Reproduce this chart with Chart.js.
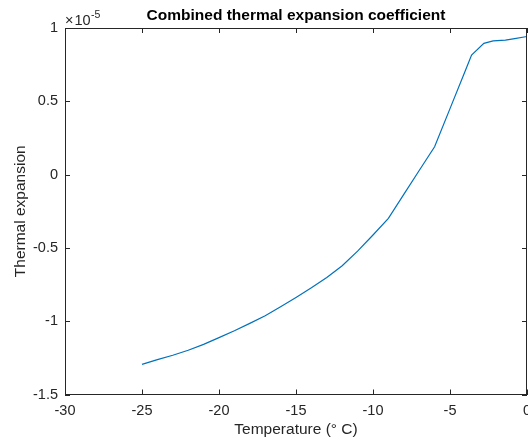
<!DOCTYPE html>
<html>
<head>
<meta charset="utf-8">
<script src="https://cdn.jsdelivr.net/npm/chart.js@4/dist/chart.umd.min.js"></script>
<style>
  html, body { margin: 0; padding: 0; background: #fff; }
  canvas { display: block; }
</style>
</head>
<body>
<canvas id="thermalChart" width="528" height="442"></canvas>
<script>
// temperature (deg C) and thermal expansion (x 10^-5)
var temperature = [-25, -24, -23, -22, -21, -20, -19, -18, -17, -16, -15, -14, -13, -12, -11, -10, -9, -8, -7, -6, -5, -4, -3.6, -2.8, -2.2, -1.4, -0.8, 0];
var expansion = [-1.295, -1.262, -1.232, -1.198, -1.158, -1.112, -1.065, -1.015, -0.963, -0.902, -0.838, -0.772, -0.702, -0.622, -0.522, -0.412, -0.298, -0.135, 0.028, 0.19, 0.45, 0.71, 0.815, 0.895, 0.912, 0.917, 0.928, 0.942];
var yExponent = -5;
var xTicks = [-30, -25, -20, -15, -10, -5, 0];
var yTicks = [-1.5, -1, -0.5, 0, 0.5, 1];

var axisColor = '#262626';
var fontFamily = 'Arial, "Liberation Sans", Helvetica, sans-serif';

var points = temperature.map(function (t, i) { return { x: t, y: expansion[i] }; });

// matlab style box: inward ticks on all 4 sides + the x10^n label
var matlabBox = {
    id: 'matlabBox',
    afterDraw: function (chart) {
        var ctx = chart.ctx;
        var a = chart.chartArea;
        var xs = chart.scales.x, ys = chart.scales.y;
        var len = 5;
        ctx.save();
        ctx.strokeStyle = axisColor;
        ctx.lineWidth = 1;
        ctx.beginPath();
        ctx.moveTo(a.left, a.top + 0.5);
        ctx.lineTo(a.right, a.top + 0.5);
        ctx.moveTo(a.right - 0.5, a.top);
        ctx.lineTo(a.right - 0.5, a.bottom);
        xTicks.forEach(function (v) {
            var px = Math.round(xs.getPixelForValue(v)) + 0.5;
            ctx.moveTo(px, a.bottom); ctx.lineTo(px, a.bottom - len);
            ctx.moveTo(px, a.top); ctx.lineTo(px, a.top + len);
        });
        yTicks.forEach(function (v) {
            var py = Math.round(ys.getPixelForValue(v)) + 0.5;
            ctx.moveTo(a.left, py); ctx.lineTo(a.left + len, py);
            ctx.moveTo(a.right, py); ctx.lineTo(a.right - len, py);
        });
        ctx.stroke();

        // exponent label, e.g. x10^-5
        ctx.fillStyle = axisColor;
        ctx.textBaseline = 'alphabetic';
        ctx.textAlign = 'left';
        ctx.font = '14.5px ' + fontFamily;
        var base = a.top - 3;
        ctx.fillText('\u00d7', a.left, base);
        var x0 = a.left + ctx.measureText('\u00d7').width + 1;
        ctx.fillText('10', x0, base);
        x0 += ctx.measureText('10').width + 0.5;
        ctx.font = '10.5px ' + fontFamily;
        ctx.fillText(String(yExponent), x0, base - 7);
        ctx.restore();
    }
};

new Chart(document.getElementById('thermalChart').getContext('2d'), {
    type: 'scatter',
    data: {
        datasets: [{
            data: points,
            showLine: true,
            borderColor: '#0072BD',
            borderWidth: 1.2,
            pointRadius: 0,
            tension: 0
        }]
    },
    options: {
        responsive: false,
        animation: false,
        devicePixelRatio: 1,
        layout: { padding: { top: 0, right: 1, left: 0, bottom: 0 } },
        plugins: {
            legend: { display: false },
            tooltip: { enabled: false },
            title: {
                display: true,
                fullSize: false,
                text: 'Combined thermal expansion coefficient',
                color: '#000',
                font: { family: fontFamily, size: 15.5, weight: 'bold' },
                padding: { top: 6, bottom: 3.4 }
            }
        },
        scales: {
            x: {
                type: 'linear',
                min: -30,
                max: 0,
                afterBuildTicks: function (s) { s.ticks = xTicks.map(function (v) { return { value: v }; }); },
                afterFit: function (s) { s.height = 47.5; s.paddingLeft = 0; s.paddingRight = 0; },
                grid: { display: false, drawTicks: false },
                border: { display: true, color: axisColor, width: 1 },
                ticks: {
                    color: axisColor,
                    padding: 8,
                    maxRotation: 0,
                    font: { family: fontFamily, size: 14.5 },
                    callback: function (v) { return String(v); }
                },
                title: {
                    display: true,
                    text: 'Temperature (\u00b0 C)',
                    color: axisColor,
                    font: { family: fontFamily, size: 15.5 },
                    padding: { top: 0, bottom: 3 }
                }
            },
            y: {
                type: 'linear',
                min: -1.5,
                max: 1,
                afterBuildTicks: function (s) { s.ticks = yTicks.map(function (v) { return { value: v }; }); },
                afterFit: function (s) { s.width = 65; s.paddingTop = 0; s.paddingBottom = 0; },
                grid: { display: false, drawTicks: false },
                border: { display: true, color: axisColor, width: 1 },
                ticks: {
                    color: axisColor,
                    padding: 7,
                    font: { family: fontFamily, size: 14.5 },
                    callback: function (v) { return String(v); }
                },
                title: {
                    display: true,
                    text: 'Thermal expansion',
                    color: axisColor,
                    font: { family: fontFamily, size: 15.5 },
                    padding: { top: 11, bottom: 0 }
                }
            }
        }
    },
    plugins: [matlabBox]
});
</script>
</body>
</html>
